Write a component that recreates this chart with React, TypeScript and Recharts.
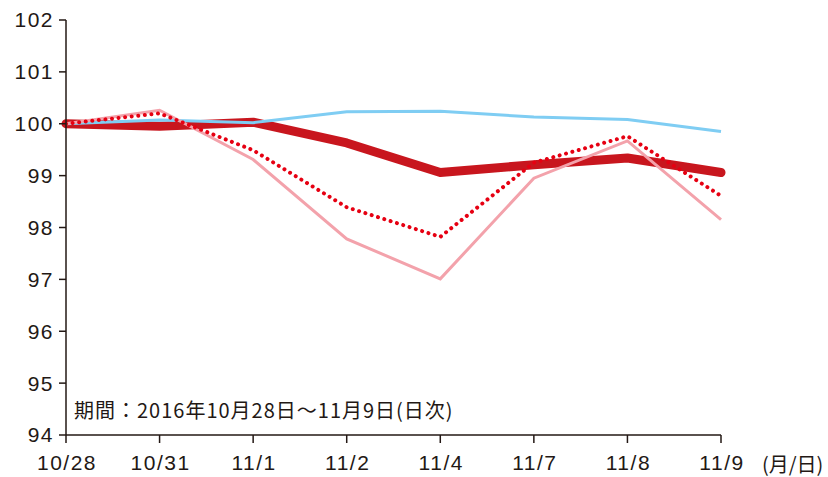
import { CartesianGrid, Line, LineChart, XAxis, YAxis } from "recharts";

const dates = ["10/28", "10/31", "11/1", "11/2", "11/4", "11/7", "11/8", "11/9"];

// indexed series, 10/28 = 100
const thickRed = [100.0, 99.95, 100.03, 99.63, 99.06, 99.21, 99.34, 99.06];
const lightBlue = [100.0, 100.07, 100.02, 100.23, 100.24, 100.13, 100.08, 99.85];
const pink = [100.0, 100.26, 99.31, 97.78, 97.01, 98.95, 99.67, 98.15];
const dottedRed = [100.0, 100.2, 99.49, 98.39, 97.82, 99.25, 99.76, 98.61];

const yTicks = [94, 95, 96, 97, 98, 99, 100, 101, 102];

const chartData = dates.map((date, i) => ({
  date,
  thickRed: thickRed[i],
  lightBlue: lightBlue[i],
  pink: pink[i],
  dottedRed: dottedRed[i],
}));

const axisColor = "#231815";
const tickStyle = {
  fontSize: 21,
  fill: axisColor,
  letterSpacing: 1.5,
  fontFamily: "'Liberation Sans', Arial, sans-serif",
};

export default function App() {
  return (
    <div
      style={{
        position: "absolute",
        left: 0,
        top: 0,
        width: 828,
        height: 477,
        background: "#ffffff",
      }}
    >
      <LineChart
        width={828}
        height={477}
        data={chartData}
        margin={{ top: 20, right: 107, left: 0, bottom: 0 }}
      >
        <CartesianGrid stroke="none" />
        <XAxis
          dataKey="date"
          height={42}
          stroke={axisColor}
          strokeWidth={1.5}
          tickSize={8}
          tickMargin={12}
          tick={{ ...tickStyle, dx: 1 }}
          interval={0}
        />
        <YAxis
          width={66}
          domain={[94, 102]}
          ticks={yTicks}
          stroke={axisColor}
          strokeWidth={1.5}
          tickSize={7}
          tickMargin={5}
          tick={tickStyle}
          allowDataOverflow
        />
        <Line
          dataKey="thickRed"
          stroke="#c8161e"
          strokeWidth={9}
          strokeLinecap="round"
          strokeLinejoin="round"
          dot={false}
          isAnimationActive={false}
        />
        <Line
          dataKey="lightBlue"
          stroke="#7fcdf3"
          strokeWidth={3}
          dot={false}
          isAnimationActive={false}
        />
        <Line
          dataKey="pink"
          stroke="#f3a2ab"
          strokeWidth={3}
          dot={false}
          isAnimationActive={false}
        />
        <Line
          dataKey="dottedRed"
          stroke="#e60012"
          strokeWidth={4}
          strokeLinecap="round"
          strokeDasharray="0.01 6.6"
          dot={false}
          isAnimationActive={false}
        />
      </LineChart>
      <div
        style={{
          position: "absolute",
          left: 74,
          top: 397,
          fontSize: 20,
          lineHeight: "26px",
          letterSpacing: 1,
          color: axisColor,
          fontFamily: "'Noto Sans CJK JP', sans-serif",
          whiteSpace: "nowrap",
        }}
      >
        期間：2016年10月28日～11月9日(日次)
      </div>
      <div
        style={{
          position: "absolute",
          left: 762,
          top: 451,
          fontSize: 20,
          lineHeight: "26px",
          color: axisColor,
          fontFamily: "'Noto Sans CJK JP', sans-serif",
          whiteSpace: "nowrap",
        }}
      >
        (月/日)
      </div>
    </div>
  );
}
